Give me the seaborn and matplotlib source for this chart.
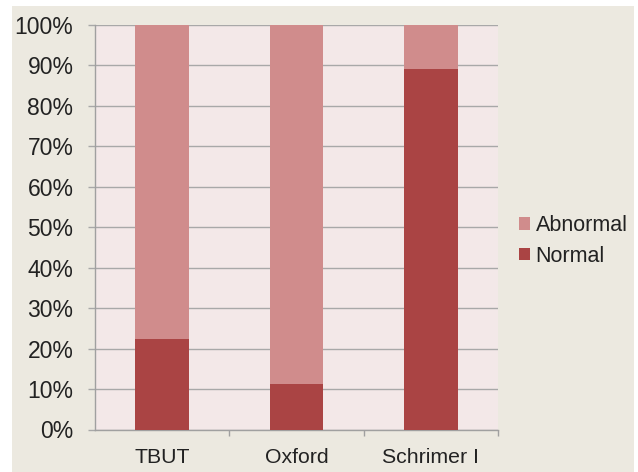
import matplotlib
matplotlib.use("Agg")
import matplotlib.pyplot as plt
from matplotlib.patches import Rectangle, Patch
from matplotlib.ticker import FixedLocator, PercentFormatter
import seaborn as sns
import pandas as pd

# Share of patients per test result
tests = ["TBUT", "Oxford", "Schrimer I"]
normal = [22.4, 11.2, 89.0]
abnormal = [100 - v for v in normal]
series_names = ["Abnormal", "Normal"]
colors = {"Abnormal": "#D08C8C", "Normal": "#AA4444"}

df = pd.DataFrame({"test": tests, "normal": normal, "abnormal": abnormal})
df["total"] = df["normal"] + df["abnormal"]

sns.set_theme(style="white")
plt.rcParams["font.family"] = ["Liberation Sans", "DejaVu Sans"]

fig = plt.figure(figsize=(6.38, 4.72), dpi=100, facecolor="white")
# beige slide panel behind the chart
fig.patches.append(Rectangle((12 / 638, 0), 622 / 638, 466 / 472,
                             transform=fig.transFigure, facecolor="#ECE9E0",
                             edgecolor="none", zorder=-10))

ax = fig.add_axes([95 / 638, 1 - 429.5 / 472, 403 / 638, 404.5 / 472])
ax.set_facecolor("#F3E8E8")

sns.barplot(data=df, x="test", y="total", color=colors["Abnormal"],
            width=0.40, ax=ax, saturation=1, linewidth=0, zorder=3)
sns.barplot(data=df, x="test", y="normal", color=colors["Normal"],
            width=0.40, ax=ax, saturation=1, linewidth=0, zorder=4)

ax.set_xlim(-0.5, 2.5)
ax.set_ylim(0, 100)
ax.set_yticks(range(0, 101, 10))
ax.yaxis.set_major_formatter(PercentFormatter(decimals=0))
ax.set_xlabel("")
ax.set_ylabel("")

ax.grid(axis="y", color="#A8A8A8", linewidth=1.0, zorder=1)
ax.set_axisbelow(True)
for side in ["top", "right"]:
    ax.spines[side].set_visible(False)
for side in ["left", "bottom"]:
    ax.spines[side].set_color("#A0A0A0")
    ax.spines[side].set_linewidth(1.0)

ax.tick_params(axis="y", which="major", length=5, width=1.0, color="#A8A8A8",
               pad=10.5, labelsize=16.5, labelcolor="#222222", left=True)
ax.tick_params(axis="x", which="major", length=0, pad=13.5,
               labelsize=15.3, labelcolor="#222222")
ax.xaxis.set_minor_locator(FixedLocator([0.5, 1.5, 2.5]))
ax.tick_params(axis="x", which="minor", length=4, width=1.0,
               color="#A0A0A0", bottom=True, direction="out")

handles = [Patch(facecolor=colors[n], edgecolor="none", label=n) for n in series_names]
fig.legend(handles=handles, loc="center left",
           bbox_to_anchor=(500 / 638, 1 - 241 / 472), frameon=False,
           fontsize=15.5, handlelength=0.5, handleheight=0.5, handletextpad=0.25,
           labelspacing=0.45, labelcolor="#222222")

fig.savefig("out.png", dpi=100, facecolor=fig.get_facecolor())
